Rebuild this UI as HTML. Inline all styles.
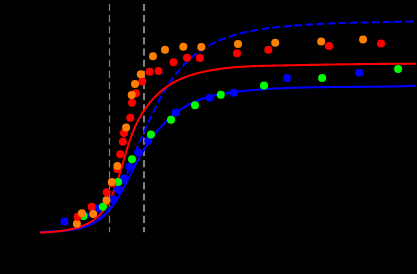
<!DOCTYPE html>
<html><head><meta charset="utf-8"><title>plot</title>
<style>
html,body{margin:0;padding:0;background:#000;width:417px;height:274px;overflow:hidden;font-family:"Liberation Sans",sans-serif;}
svg{display:block}
</style></head>
<body>
<svg width="417" height="274" viewBox="0 0 417 274">
<rect x="0" y="0" width="417" height="274" fill="#000"/>
<g fill="none" stroke="#808080" stroke-dasharray="7.15 4">
<path stroke-width="1.2" d="M109.5,3.9 V232.3"/>
<path stroke-width="2.08" d="M144,3.9 V232.3"/>
</g>
<g fill="none" stroke-width="2.08" stroke-linejoin="round">
<path stroke="#0000ff" d="M39.99,232.34 L40.59,232.28 L41.19,232.23 L41.80,232.17 L42.40,232.12 L43.01,232.07 L43.62,232.03 L44.23,231.98 L44.85,231.94 L45.46,231.89 L46.08,231.85 L46.70,231.81 L47.32,231.77 L47.94,231.73 L48.57,231.69 L49.19,231.66 L49.82,231.62 L50.45,231.58 L51.08,231.55 L51.71,231.51 L52.34,231.48 L52.97,231.44 L53.61,231.41 L54.24,231.37 L54.88,231.33 L55.51,231.30 L56.15,231.26 L56.79,231.22 L57.43,231.18 L58.07,231.14 L58.71,231.10 L59.35,231.06 L59.99,231.01 L60.63,230.97 L61.27,230.92 L61.91,230.87 L62.55,230.82 L63.19,230.76 L63.83,230.71 L64.47,230.65 L65.11,230.59 L65.75,230.53 L66.39,230.46 L67.02,230.40 L67.66,230.32 L68.30,230.25 L68.94,230.17 L69.57,230.09 L70.21,230.01 L70.84,229.92 L71.47,229.83 L72.11,229.74 L72.74,229.64 L73.37,229.54 L73.99,229.43 L74.62,229.32 L75.25,229.20 L75.87,229.08 L76.49,228.96 L77.11,228.83 L77.73,228.70 L78.35,228.56 L78.97,228.41 L79.58,228.26 L80.19,228.11 L80.80,227.95 L81.41,227.79 L82.01,227.62 L82.62,227.44 L83.22,227.26 L83.82,227.07 L84.41,226.88 L85.00,226.68 L85.60,226.48 L86.18,226.27 L86.77,226.06 L87.35,225.84 L87.93,225.61 L88.51,225.38 L89.08,225.14 L89.65,224.90 L90.22,224.65 L90.78,224.39 L91.34,224.13 L91.90,223.87 L92.45,223.59 L93.00,223.31 L93.55,223.03 L94.09,222.74 L94.63,222.44 L95.17,222.13 L95.70,221.82 L96.23,221.50 L96.75,221.18 L97.27,220.85 L97.79,220.51 L98.30,220.17 L98.80,219.82 L99.31,219.46 L99.80,219.10 L100.30,218.73 L100.79,218.35 L101.27,217.97 L101.75,217.58 L102.23,217.19 L102.70,216.78 L103.16,216.38 L103.63,215.96 L104.09,215.54 L104.54,215.12 L104.99,214.69 L105.44,214.25 L105.88,213.81 L106.32,213.37 L106.75,212.92 L107.18,212.47 L107.61,212.01 L108.03,211.54 L108.45,211.07 L108.86,210.60 L109.27,210.13 L109.68,209.65 L110.08,209.16 L110.48,208.68 L110.88,208.18 L111.27,207.69 L111.66,207.19 L112.04,206.69 L112.42,206.19 L112.80,205.68 L113.17,205.17 L113.54,204.66 L113.91,204.15 L114.28,203.63 L114.64,203.11 L114.99,202.59 L115.35,202.07 L115.70,201.54 L116.05,201.02 L116.39,200.49 L116.73,199.96 L117.07,199.43 L117.40,198.90 L117.73,198.37 L118.06,197.83 L118.39,197.30 L118.71,196.77 L119.03,196.23 L119.35,195.69 L119.67,195.15 L119.98,194.61 L120.29,194.07 L120.60,193.53 L120.90,192.99 L121.21,192.45 L121.51,191.91 L121.81,191.36 L122.11,190.82 L122.40,190.27 L122.70,189.73 L122.99,189.18 L123.28,188.63 L123.57,188.08 L123.86,187.53 L124.15,186.99 L124.43,186.44 L124.72,185.88 L125.00,185.33 L125.28,184.78 L125.56,184.23 L125.84,183.68 L126.12,183.12 L126.40,182.57 L126.68,182.02 L126.96,181.46 L127.24,180.91 L127.51,180.35 L127.79,179.80 L128.07,179.24 L128.35,178.69 L128.62,178.13 L128.90,177.58 L129.17,177.02 L129.45,176.46 L129.73,175.91 L130.01,175.35 L130.28,174.79 L130.56,174.24 L130.84,173.68 L131.12,173.12 L131.40,172.57 L131.68,172.01 L131.97,171.45 L132.25,170.90 L132.53,170.34 L132.82,169.78 L133.10,169.23 L133.39,168.67 L133.68,168.11 L133.97,167.56 L134.26,167.00 L134.55,166.45 L134.84,165.89 L135.14,165.34 L135.43,164.78 L135.73,164.23 L136.03,163.67 L136.32,163.12 L136.62,162.57 L136.93,162.01 L137.23,161.46 L137.53,160.91 L137.84,160.36 L138.14,159.81 L138.45,159.26 L138.76,158.71 L139.07,158.16 L139.38,157.61 L139.69,157.06 L140.00,156.51 L140.32,155.97 L140.64,155.42 L140.95,154.87 L141.27,154.33 L141.59,153.79 L141.92,153.24 L142.24,152.70 L142.56,152.16 L142.89,151.62 L143.22,151.08 L143.55,150.54 L143.88,150.00 L144.21,149.46 L144.55,148.93 L144.89,148.39 L145.22,147.86 L145.56,147.32 L145.90,146.79 L146.25,146.26 L146.59,145.73 L146.94,145.20 L147.29,144.68 L147.64,144.15 L147.99,143.62 L148.34,143.10 L148.70,142.58 L149.06,142.05 L149.42,141.53 L149.78,141.01 L150.14,140.50 L150.51,139.98 L150.88,139.47 L151.25,138.95 L151.62,138.44 L151.99,137.93 L152.37,137.42 L152.74,136.91 L153.12,136.40 L153.51,135.90 L153.89,135.40 L154.28,134.89 L154.66,134.39 L155.06,133.89 L155.45,133.40 L155.84,132.90 L156.24,132.41 L156.64,131.92 L157.04,131.43 L157.45,130.94 L157.85,130.45 L158.26,129.97 L158.67,129.48 L159.09,129.00 L159.50,128.52 L159.92,128.05 L160.34,127.57 L160.76,127.10 L161.19,126.63 L161.61,126.16 L162.04,125.69 L162.47,125.23 L162.91,124.77 L163.34,124.31 L163.78,123.85 L164.22,123.39 L164.66,122.94 L165.10,122.49 L165.55,122.04 L166.00,121.60 L166.45,121.16 L166.90,120.72 L167.36,120.28 L167.81,119.85 L168.27,119.41 L168.73,118.98 L169.20,118.56 L169.66,118.13 L170.13,117.71 L170.60,117.30 L171.07,116.88 L171.55,116.47 L172.02,116.06 L172.50,115.65 L172.98,115.25 L173.46,114.85 L173.95,114.46 L174.44,114.06 L174.92,113.67 L175.42,113.28 L175.91,112.90 L176.40,112.52 L176.90,112.14 L177.40,111.77 L177.90,111.40 L178.41,111.03 L178.91,110.67 L179.42,110.31 L179.93,109.95 L180.44,109.60 L180.96,109.25 L181.47,108.91 L181.99,108.57 L182.51,108.23 L183.03,107.89 L183.56,107.56 L184.08,107.24 L184.61,106.92 L185.14,106.60 L185.67,106.28 L186.21,105.97 L186.74,105.67 L187.28,105.36 L187.82,105.06 L188.36,104.77 L188.91,104.48 L189.46,104.20 L190.00,103.91 L190.55,103.64 L191.11,103.36 L191.66,103.09 L192.22,102.83 L192.78,102.57 L193.34,102.31 L193.90,102.06 L194.46,101.81 L195.03,101.57 L195.59,101.32 L196.16,101.09 L196.73,100.85 L197.30,100.62 L197.88,100.40 L198.45,100.18 L199.03,99.96 L199.61,99.74 L200.19,99.53 L200.77,99.32 L201.36,99.12 L201.94,98.91 L202.53,98.72 L203.11,98.52 L203.70,98.33 L204.29,98.14 L204.89,97.96 L205.48,97.77 L206.07,97.60 L206.67,97.42 L207.27,97.25 L207.87,97.08 L208.47,96.91 L209.07,96.75 L209.67,96.59 L210.27,96.43 L210.88,96.27 L211.48,96.12 L212.09,95.97 L212.70,95.82 L213.31,95.68 L213.92,95.54 L214.53,95.40 L215.14,95.26 L215.75,95.13 L216.37,94.99 L216.98,94.86 L217.60,94.74 L218.21,94.61 L218.83,94.49 L219.45,94.37 L220.07,94.25 L220.68,94.13 L221.31,94.02 L221.93,93.91 L222.55,93.80 L223.17,93.69 L223.79,93.58 L224.42,93.48 L225.04,93.38 L225.67,93.28 L226.29,93.18 L226.92,93.08 L227.54,92.99 L228.17,92.89 L228.80,92.80 L229.42,92.71 L230.05,92.62 L230.68,92.54 L231.31,92.45 L231.94,92.37 L232.57,92.28 L233.20,92.20 L233.83,92.12 L234.46,92.04 L235.09,91.96 L235.72,91.89 L236.35,91.81 L236.98,91.74 L237.61,91.66 L238.24,91.59 L238.87,91.52 L239.51,91.45 L240.14,91.38 L240.77,91.31 L241.40,91.24 L242.03,91.18 L242.66,91.11 L243.29,91.04 L243.92,90.98 L244.55,90.91 L245.18,90.85 L245.82,90.79 L246.45,90.73 L247.08,90.66 L247.71,90.60 L248.34,90.54 L248.97,90.48 L249.60,90.43 L250.23,90.37 L250.86,90.31 L251.49,90.25 L252.12,90.20 L252.75,90.14 L253.38,90.09 L254.01,90.03 L254.64,89.98 L255.27,89.93 L255.90,89.88 L256.53,89.82 L257.16,89.77 L257.79,89.72 L258.42,89.67 L259.05,89.63 L259.68,89.58 L260.30,89.53 L260.93,89.48 L261.56,89.44 L262.19,89.39 L262.82,89.35 L263.45,89.30 L264.08,89.26 L264.71,89.21 L265.34,89.17 L265.97,89.13 L266.59,89.09 L267.22,89.05 L267.85,89.01 L268.48,88.97 L269.11,88.93 L269.74,88.89 L270.37,88.85 L270.99,88.81 L271.62,88.77 L272.25,88.74 L272.88,88.70 L273.51,88.67 L274.14,88.63 L274.76,88.60 L275.39,88.56 L276.02,88.53 L276.65,88.49 L277.28,88.46 L277.90,88.43 L278.53,88.40 L279.16,88.37 L279.79,88.34 L280.42,88.31 L281.04,88.28 L281.67,88.25 L282.30,88.22 L282.93,88.19 L283.55,88.16 L284.18,88.14 L284.81,88.11 L285.44,88.08 L286.06,88.06 L286.69,88.03 L287.32,88.00 L287.95,87.98 L288.57,87.96 L289.20,87.93 L289.83,87.91 L290.46,87.89 L291.08,87.86 L291.71,87.84 L292.34,87.82 L292.96,87.80 L293.59,87.78 L294.22,87.75 L294.85,87.73 L295.47,87.71 L296.10,87.69 L296.73,87.68 L297.35,87.66 L297.98,87.64 L298.61,87.62 L299.24,87.60 L299.86,87.58 L300.49,87.57 L301.12,87.55 L301.74,87.53 L302.37,87.52 L303.00,87.50 L303.62,87.49 L304.25,87.47 L304.88,87.46 L305.50,87.44 L306.13,87.43 L306.76,87.41 L307.38,87.40 L308.01,87.39 L308.64,87.37 L309.26,87.36 L309.89,87.35 L310.52,87.34 L311.14,87.32 L311.77,87.31 L312.40,87.30 L313.02,87.29 L313.65,87.28 L314.28,87.27 L314.90,87.26 L315.53,87.25 L316.16,87.24 L316.78,87.23 L317.41,87.22 L318.04,87.21 L318.66,87.20 L319.29,87.19 L319.92,87.18 L320.54,87.17 L321.17,87.17 L321.79,87.16 L322.42,87.15 L323.05,87.14 L323.67,87.13 L324.30,87.13 L324.93,87.12 L325.55,87.11 L326.18,87.11 L326.81,87.10 L327.43,87.09 L328.06,87.09 L328.69,87.08 L329.31,87.07 L329.94,87.07 L330.57,87.06 L331.19,87.06 L331.82,87.05 L332.45,87.05 L333.07,87.04 L333.70,87.04 L334.33,87.03 L334.95,87.03 L335.58,87.02 L336.21,87.02 L336.83,87.01 L337.46,87.01 L338.09,87.00 L338.71,87.00 L339.34,86.99 L339.97,86.99 L340.59,86.99 L341.22,86.98 L341.85,86.98 L342.47,86.97 L343.10,86.97 L343.73,86.97 L344.35,86.96 L344.98,86.96 L345.61,86.95 L346.23,86.95 L346.86,86.95 L347.49,86.94 L348.11,86.94 L348.74,86.94 L349.37,86.93 L350.00,86.93 L350.62,86.92 L351.25,86.92 L351.88,86.92 L352.50,86.91 L353.13,86.91 L353.76,86.91 L354.39,86.90 L355.01,86.90 L355.64,86.89 L356.27,86.89 L356.90,86.89 L357.52,86.88 L358.15,86.88 L358.78,86.87 L359.40,86.87 L360.03,86.87 L360.66,86.86 L361.29,86.86 L361.91,86.85 L362.54,86.85 L363.17,86.84 L363.80,86.84 L364.43,86.83 L365.05,86.83 L365.68,86.82 L366.31,86.82 L366.94,86.81 L367.57,86.81 L368.19,86.80 L368.82,86.80 L369.45,86.79 L370.08,86.79 L370.71,86.78 L371.33,86.77 L371.96,86.77 L372.59,86.76 L373.22,86.75 L373.85,86.75 L374.48,86.74 L375.10,86.73 L375.73,86.73 L376.36,86.72 L376.99,86.71 L377.62,86.70 L378.25,86.70 L378.88,86.69 L379.50,86.68 L380.13,86.67 L380.76,86.66 L381.39,86.65 L382.02,86.64 L382.65,86.63 L383.28,86.62 L383.91,86.61 L384.54,86.60 L385.17,86.59 L385.79,86.58 L386.42,86.57 L387.05,86.56 L387.68,86.55 L388.31,86.54 L388.94,86.53 L389.57,86.51 L390.20,86.50 L390.83,86.49 L391.46,86.48 L392.09,86.46 L392.72,86.45 L393.35,86.44 L393.98,86.42 L394.61,86.41 L395.24,86.39 L395.87,86.38 L396.50,86.36 L397.13,86.35 L397.76,86.33 L398.39,86.31 L399.02,86.30 L399.65,86.28 L400.29,86.26 L400.92,86.25 L401.55,86.23 L402.18,86.21 L402.81,86.19 L403.44,86.17 L404.07,86.15 L404.70,86.13 L405.33,86.11 L405.97,86.09 L406.60,86.07 L407.23,86.05 L407.86,86.03 L408.49,86.00 L409.12,85.98 L409.76,85.96 L410.39,85.94 L411.02,85.91 L411.65,85.89 L412.28,85.86 L412.92,85.84 L413.55,85.81 L414.18,85.79 L414.81,85.76 L415.45,85.73 L416.08,85.71"/>
<path stroke="#0000ff" stroke-dasharray="7.76 3.33" stroke-dashoffset="6.96" d="M39.95,232.49 L40.63,232.42 L41.31,232.35 L41.99,232.28 L42.67,232.21 L43.36,232.15 L44.04,232.09 L44.73,232.03 L45.42,231.97 L46.11,231.91 L46.81,231.86 L47.50,231.80 L48.20,231.75 L48.90,231.70 L49.59,231.65 L50.29,231.60 L50.99,231.55 L51.70,231.50 L52.40,231.45 L53.10,231.40 L53.81,231.35 L54.51,231.30 L55.21,231.25 L55.92,231.19 L56.63,231.14 L57.33,231.09 L58.04,231.03 L58.74,230.98 L59.45,230.92 L60.16,230.86 L60.86,230.80 L61.57,230.73 L62.28,230.67 L62.98,230.60 L63.69,230.53 L64.39,230.46 L65.09,230.38 L65.80,230.30 L66.50,230.22 L67.20,230.13 L67.90,230.04 L68.60,229.94 L69.30,229.85 L69.99,229.74 L70.69,229.64 L71.38,229.53 L72.08,229.41 L72.77,229.29 L73.46,229.17 L74.15,229.04 L74.83,228.90 L75.52,228.76 L76.20,228.61 L76.88,228.46 L77.56,228.30 L78.23,228.14 L78.91,227.96 L79.58,227.79 L80.25,227.60 L80.91,227.41 L81.58,227.21 L82.24,227.01 L82.90,226.79 L83.55,226.57 L84.20,226.35 L84.85,226.11 L85.50,225.87 L86.14,225.61 L86.78,225.35 L87.42,225.09 L88.05,224.81 L88.68,224.52 L89.31,224.23 L89.93,223.93 L90.55,223.62 L91.16,223.31 L91.77,222.98 L92.38,222.65 L92.98,222.31 L93.58,221.97 L94.18,221.61 L94.77,221.25 L95.35,220.88 L95.93,220.51 L96.51,220.13 L97.08,219.74 L97.65,219.34 L98.21,218.94 L98.77,218.53 L99.32,218.12 L99.87,217.70 L100.41,217.27 L100.94,216.83 L101.48,216.39 L102.00,215.95 L102.52,215.49 L103.04,215.04 L103.55,214.57 L104.05,214.10 L104.55,213.63 L105.04,213.15 L105.52,212.66 L106.00,212.17 L106.48,211.67 L106.94,211.17 L107.41,210.66 L107.86,210.15 L108.31,209.63 L108.75,209.11 L109.19,208.58 L109.62,208.05 L110.05,207.52 L110.47,206.98 L110.89,206.43 L111.30,205.88 L111.71,205.33 L112.11,204.77 L112.50,204.21 L112.89,203.64 L113.28,203.07 L113.66,202.50 L114.04,201.92 L114.41,201.34 L114.78,200.75 L115.14,200.16 L115.50,199.57 L115.85,198.98 L116.20,198.38 L116.54,197.78 L116.88,197.17 L117.22,196.56 L117.55,195.95 L117.88,195.34 L118.21,194.72 L118.53,194.10 L118.85,193.48 L119.16,192.86 L119.47,192.23 L119.78,191.60 L120.08,190.97 L120.39,190.34 L120.68,189.70 L120.98,189.06 L121.27,188.42 L121.56,187.78 L121.84,187.14 L122.12,186.49 L122.40,185.85 L122.68,185.20 L122.96,184.55 L123.23,183.90 L123.50,183.24 L123.77,182.59 L124.03,181.94 L124.29,181.28 L124.55,180.62 L124.81,179.96 L125.07,179.31 L125.32,178.65 L125.58,177.99 L125.83,177.33 L126.08,176.67 L126.33,176.00 L126.57,175.34 L126.82,174.68 L127.06,174.02 L127.30,173.36 L127.54,172.70 L127.78,172.03 L128.02,171.37 L128.26,170.71 L128.50,170.05 L128.74,169.39 L128.97,168.73 L129.21,168.07 L129.44,167.41 L129.67,166.75 L129.91,166.10 L130.14,165.44 L130.37,164.78 L130.61,164.13 L130.84,163.48 L131.07,162.83 L131.30,162.18 L131.54,161.53 L131.77,160.88 L132.00,160.23 L132.23,159.59 L132.47,158.95 L132.70,158.31 L132.94,157.67 L133.17,157.03 L133.41,156.40 L133.65,155.77 L133.88,155.14 L134.12,154.51 L134.36,153.88 L134.60,153.26 L134.85,152.64 L135.09,152.02 L135.33,151.41 L135.58,150.80 L135.83,150.19 L136.08,149.58 L136.33,148.98 L136.58,148.38 L136.83,147.79 L137.09,147.19 L137.35,146.60 L137.61,146.02 L137.87,145.43 L138.13,144.85 L138.40,144.27 L138.67,143.70 L138.93,143.12 L139.20,142.55 L139.47,141.98 L139.75,141.40 L140.02,140.83 L140.29,140.26 L140.57,139.68 L140.84,139.11 L141.11,138.53 L141.39,137.96 L141.66,137.38 L141.94,136.79 L142.22,136.21 L142.49,135.62 L142.77,135.03 L143.04,134.43 L143.32,133.84 L143.59,133.23 L143.86,132.62 L144.13,132.01 L144.41,131.39 L144.68,130.76 L144.94,130.13 L145.21,129.50 L145.48,128.85 L145.74,128.20 L146.01,127.54 L146.27,126.87 L146.53,126.20 L146.79,125.52 L147.04,124.86 L147.30,124.20 L147.55,123.56 L147.81,122.94 L148.06,122.34 L148.31,121.77 L148.56,121.24 L148.81,120.74 L149.07,120.26 L149.32,119.80 L149.57,119.36 L149.82,118.94 L150.07,118.53 L150.32,118.12 L150.57,117.72 L150.82,117.31 L151.07,116.89 L151.32,116.45 L151.58,115.99 L151.83,115.51 L152.09,115.00 L152.34,114.49 L152.60,113.95 L152.86,113.40 L153.13,112.84 L153.39,112.27 L153.65,111.69 L153.92,111.10 L154.19,110.50 L154.46,109.90 L154.74,109.30 L155.02,108.69 L155.30,108.09 L155.58,107.48 L155.86,106.87 L156.15,106.26 L156.44,105.66 L156.73,105.05 L157.03,104.44 L157.33,103.83 L157.63,103.23 L157.93,102.62 L158.24,102.01 L158.55,101.40 L158.86,100.80 L159.18,100.19 L159.49,99.58 L159.81,98.98 L160.14,98.37 L160.46,97.77 L160.79,97.16 L161.12,96.56 L161.46,95.95 L161.79,95.35 L162.13,94.75 L162.47,94.15 L162.82,93.54 L163.16,92.94 L163.51,92.34 L163.86,91.75 L164.22,91.15 L164.58,90.55 L164.94,89.96 L165.30,89.36 L165.66,88.77 L166.03,88.18 L166.40,87.59 L166.78,87.00 L167.15,86.41 L167.53,85.82 L167.91,85.23 L168.30,84.65 L168.68,84.07 L169.07,83.48 L169.46,82.90 L169.86,82.33 L170.26,81.75 L170.66,81.17 L171.06,80.60 L171.46,80.03 L171.87,79.46 L172.28,78.89 L172.70,78.32 L173.11,77.76 L173.53,77.20 L173.95,76.64 L174.37,76.08 L174.80,75.52 L175.23,74.97 L175.66,74.42 L176.09,73.87 L176.53,73.32 L176.97,72.77 L177.41,72.23 L177.86,71.69 L178.30,71.15 L178.75,70.62 L179.21,70.09 L179.66,69.56 L180.12,69.03 L180.58,68.50 L181.04,67.98 L181.51,67.46 L181.98,66.94 L182.45,66.43 L182.92,65.92 L183.40,65.41 L183.88,64.91 L184.36,64.40 L184.84,63.91 L185.33,63.41 L185.82,62.92 L186.31,62.43 L186.80,61.94 L187.30,61.46 L187.80,60.98 L188.30,60.50 L188.80,60.03 L189.31,59.56 L189.82,59.09 L190.33,58.63 L190.85,58.17 L191.37,57.72 L191.89,57.27 L192.41,56.82 L192.93,56.38 L193.46,55.94 L193.99,55.50 L194.53,55.07 L195.06,54.64 L195.60,54.21 L196.14,53.79 L196.68,53.38 L197.23,52.96 L197.78,52.56 L198.33,52.15 L198.88,51.75 L199.44,51.36 L200.00,50.97 L200.56,50.58 L201.12,50.20 L201.69,49.82 L202.26,49.44 L202.83,49.07 L203.40,48.71 L203.98,48.34 L204.56,47.98 L205.14,47.63 L205.72,47.28 L206.31,46.93 L206.89,46.59 L207.48,46.25 L208.08,45.92 L208.67,45.59 L209.27,45.26 L209.86,44.94 L210.47,44.62 L211.07,44.30 L211.67,43.99 L212.28,43.68 L212.89,43.38 L213.50,43.07 L214.11,42.78 L214.73,42.48 L215.35,42.19 L215.97,41.91 L216.59,41.62 L217.21,41.34 L217.83,41.07 L218.46,40.79 L219.09,40.52 L219.72,40.26 L220.35,39.99 L220.99,39.73 L221.62,39.48 L222.26,39.22 L222.90,38.97 L223.54,38.73 L224.18,38.48 L224.83,38.24 L225.47,38.01 L226.12,37.77 L226.77,37.54 L227.42,37.31 L228.07,37.09 L228.72,36.87 L229.38,36.65 L230.04,36.43 L230.69,36.22 L231.35,36.01 L232.01,35.80 L232.68,35.60 L233.34,35.39 L234.00,35.19 L234.67,35.00 L235.34,34.81 L236.01,34.61 L236.68,34.43 L237.35,34.24 L238.02,34.06 L238.69,33.88 L239.37,33.70 L240.04,33.53 L240.72,33.35 L241.40,33.18 L242.08,33.01 L242.76,32.85 L243.44,32.69 L244.12,32.53 L244.81,32.37 L245.49,32.21 L246.18,32.06 L246.86,31.91 L247.55,31.76 L248.24,31.61 L248.93,31.47 L249.62,31.33 L250.31,31.19 L251.00,31.05 L251.69,30.91 L252.38,30.78 L253.07,30.65 L253.77,30.52 L254.46,30.39 L255.16,30.26 L255.86,30.14 L256.55,30.02 L257.25,29.90 L257.95,29.78 L258.65,29.67 L259.34,29.55 L260.04,29.44 L260.74,29.33 L261.44,29.22 L262.15,29.11 L262.85,29.01 L263.55,28.90 L264.25,28.80 L264.95,28.70 L265.66,28.60 L266.36,28.50 L267.06,28.40 L267.77,28.31 L268.47,28.22 L269.17,28.13 L269.88,28.03 L270.58,27.95 L271.29,27.86 L271.99,27.77 L272.70,27.69 L273.40,27.60 L274.11,27.52 L274.81,27.44 L275.52,27.36 L276.22,27.28 L276.93,27.20 L277.63,27.13 L278.34,27.05 L279.04,26.98 L279.75,26.90 L280.45,26.83 L281.16,26.76 L281.86,26.69 L282.56,26.62 L283.27,26.55 L283.97,26.49 L284.67,26.42 L285.38,26.35 L286.08,26.29 L286.78,26.22 L287.49,26.16 L288.19,26.10 L288.89,26.04 L289.59,25.97 L290.29,25.91 L290.99,25.85 L291.69,25.79 L292.39,25.74 L293.09,25.68 L293.79,25.62 L294.49,25.57 L295.19,25.51 L295.88,25.46 L296.58,25.40 L297.28,25.35 L297.98,25.29 L298.67,25.24 L299.37,25.19 L300.07,25.14 L300.76,25.09 L301.46,25.04 L302.15,24.99 L302.85,24.94 L303.54,24.89 L304.24,24.85 L304.93,24.80 L305.63,24.76 L306.32,24.71 L307.02,24.67 L307.71,24.62 L308.40,24.58 L309.10,24.53 L309.79,24.49 L310.48,24.45 L311.17,24.41 L311.87,24.37 L312.56,24.33 L313.25,24.29 L313.94,24.25 L314.63,24.21 L315.33,24.17 L316.02,24.13 L316.71,24.10 L317.40,24.06 L318.09,24.03 L318.78,23.99 L319.47,23.95 L320.16,23.92 L320.85,23.89 L321.54,23.85 L322.23,23.82 L322.92,23.79 L323.61,23.75 L324.30,23.72 L324.99,23.69 L325.68,23.66 L326.37,23.63 L327.06,23.60 L327.75,23.57 L328.44,23.54 L329.13,23.51 L329.81,23.48 L330.50,23.46 L331.19,23.43 L331.88,23.40 L332.57,23.37 L333.26,23.35 L333.95,23.32 L334.63,23.30 L335.32,23.27 L336.01,23.25 L336.70,23.22 L337.39,23.20 L338.08,23.17 L338.76,23.15 L339.45,23.13 L340.14,23.10 L340.83,23.08 L341.52,23.06 L342.21,23.04 L342.90,23.02 L343.58,22.99 L344.27,22.97 L344.96,22.95 L345.65,22.93 L346.34,22.91 L347.03,22.89 L347.71,22.87 L348.40,22.85 L349.09,22.83 L349.78,22.82 L350.47,22.80 L351.16,22.78 L351.85,22.76 L352.54,22.74 L353.23,22.72 L353.92,22.71 L354.60,22.69 L355.29,22.67 L355.98,22.66 L356.67,22.64 L357.36,22.62 L358.05,22.61 L358.74,22.59 L359.43,22.57 L360.12,22.56 L360.81,22.54 L361.50,22.53 L362.20,22.51 L362.89,22.50 L363.58,22.48 L364.27,22.47 L364.96,22.45 L365.65,22.44 L366.34,22.42 L367.04,22.41 L367.73,22.39 L368.42,22.38 L369.11,22.36 L369.81,22.35 L370.50,22.34 L371.19,22.32 L371.88,22.31 L372.58,22.29 L373.27,22.28 L373.97,22.27 L374.66,22.25 L375.36,22.24 L376.05,22.22 L376.75,22.21 L377.44,22.20 L378.14,22.18 L378.83,22.17 L379.53,22.16 L380.22,22.14 L380.92,22.13 L381.62,22.12 L382.31,22.10 L383.01,22.09 L383.71,22.08 L384.41,22.06 L385.11,22.05 L385.81,22.03 L386.50,22.02 L387.20,22.01 L387.90,21.99 L388.60,21.98 L389.30,21.97 L390.00,21.95 L390.71,21.94 L391.41,21.92 L392.11,21.91 L392.81,21.89 L393.51,21.88 L394.22,21.86 L394.92,21.85 L395.62,21.83 L396.33,21.82 L397.03,21.80 L397.74,21.79 L398.44,21.77 L399.15,21.76 L399.85,21.74 L400.56,21.73 L401.27,21.71 L401.97,21.69 L402.68,21.68 L403.39,21.66 L404.10,21.64 L404.81,21.63 L405.52,21.61 L406.23,21.59 L406.94,21.58 L407.65,21.56 L408.36,21.54 L409.07,21.52 L409.78,21.50 L410.49,21.48 L411.21,21.47 L411.92,21.45 L412.63,21.43 L413.35,21.41 L414.06,21.39 L414.78,21.37 L415.50,21.35 L416.21,21.33"/>
<path stroke="#ff0000" d="M40.15,232.53 L40.77,232.50 L41.38,232.47 L42.00,232.44 L42.63,232.41 L43.26,232.38 L43.89,232.34 L44.52,232.31 L45.16,232.28 L45.80,232.24 L46.44,232.20 L47.08,232.17 L47.73,232.13 L48.38,232.09 L49.03,232.05 L49.68,232.00 L50.34,231.96 L50.99,231.91 L51.65,231.86 L52.31,231.81 L52.97,231.76 L53.64,231.70 L54.30,231.64 L54.97,231.58 L55.63,231.52 L56.30,231.46 L56.97,231.39 L57.64,231.32 L58.31,231.25 L58.98,231.17 L59.65,231.10 L60.32,231.01 L60.99,230.93 L61.66,230.84 L62.33,230.75 L63.01,230.66 L63.68,230.56 L64.35,230.46 L65.02,230.36 L65.69,230.25 L66.36,230.14 L67.03,230.02 L67.70,229.90 L68.36,229.78 L69.03,229.65 L69.70,229.52 L70.36,229.38 L71.02,229.24 L71.68,229.10 L72.34,228.95 L73.00,228.79 L73.66,228.63 L74.31,228.47 L74.96,228.30 L75.61,228.13 L76.26,227.95 L76.91,227.76 L77.55,227.57 L78.19,227.38 L78.83,227.18 L79.47,226.97 L80.10,226.76 L80.73,226.54 L81.36,226.32 L81.98,226.09 L82.60,225.85 L83.22,225.60 L83.83,225.35 L84.44,225.10 L85.05,224.83 L85.65,224.56 L86.25,224.28 L86.85,223.99 L87.44,223.70 L88.02,223.40 L88.61,223.09 L89.18,222.77 L89.76,222.45 L90.33,222.11 L90.89,221.77 L91.45,221.42 L92.00,221.07 L92.55,220.70 L93.10,220.33 L93.64,219.94 L94.17,219.56 L94.70,219.16 L95.22,218.76 L95.74,218.34 L96.25,217.93 L96.76,217.50 L97.26,217.07 L97.75,216.63 L98.24,216.19 L98.72,215.74 L99.19,215.28 L99.66,214.81 L100.12,214.34 L100.58,213.87 L101.03,213.38 L101.47,212.90 L101.91,212.40 L102.33,211.90 L102.75,211.40 L103.17,210.89 L103.57,210.38 L103.97,209.86 L104.36,209.33 L104.75,208.80 L105.13,208.27 L105.50,207.73 L105.86,207.19 L106.22,206.64 L106.58,206.09 L106.92,205.53 L107.26,204.98 L107.60,204.41 L107.93,203.85 L108.25,203.28 L108.57,202.70 L108.88,202.13 L109.19,201.55 L109.49,200.96 L109.79,200.38 L110.08,199.79 L110.37,199.20 L110.66,198.60 L110.94,198.01 L111.21,197.41 L111.49,196.81 L111.76,196.20 L112.02,195.60 L112.28,194.99 L112.54,194.38 L112.80,193.77 L113.05,193.16 L113.30,192.55 L113.54,191.93 L113.79,191.32 L114.03,190.70 L114.27,190.08 L114.50,189.47 L114.74,188.85 L114.97,188.23 L115.20,187.60 L115.43,186.98 L115.65,186.36 L115.87,185.74 L116.09,185.11 L116.31,184.49 L116.53,183.86 L116.75,183.23 L116.96,182.60 L117.17,181.98 L117.38,181.35 L117.59,180.72 L117.79,180.09 L118.00,179.45 L118.20,178.82 L118.41,178.19 L118.61,177.56 L118.81,176.92 L119.00,176.29 L119.20,175.65 L119.40,175.02 L119.59,174.38 L119.78,173.75 L119.98,173.11 L120.17,172.47 L120.36,171.84 L120.55,171.20 L120.74,170.56 L120.92,169.92 L121.11,169.28 L121.30,168.65 L121.48,168.01 L121.67,167.37 L121.86,166.73 L122.04,166.09 L122.23,165.45 L122.41,164.81 L122.59,164.17 L122.78,163.53 L122.96,162.89 L123.14,162.25 L123.33,161.61 L123.51,160.97 L123.70,160.33 L123.88,159.69 L124.06,159.05 L124.25,158.41 L124.43,157.77 L124.62,157.13 L124.80,156.49 L124.99,155.86 L125.18,155.22 L125.36,154.58 L125.55,153.94 L125.74,153.30 L125.93,152.67 L126.12,152.03 L126.31,151.39 L126.50,150.76 L126.69,150.12 L126.89,149.48 L127.08,148.85 L127.28,148.21 L127.47,147.58 L127.67,146.95 L127.87,146.31 L128.07,145.68 L128.27,145.05 L128.48,144.42 L128.68,143.79 L128.89,143.16 L129.10,142.53 L129.31,141.90 L129.52,141.27 L129.73,140.65 L129.95,140.02 L130.17,139.39 L130.38,138.77 L130.61,138.15 L130.83,137.52 L131.05,136.90 L131.28,136.28 L131.51,135.66 L131.74,135.04 L131.98,134.42 L132.21,133.80 L132.45,133.19 L132.70,132.57 L132.94,131.96 L133.19,131.35 L133.44,130.73 L133.69,130.12 L133.94,129.51 L134.20,128.91 L134.46,128.30 L134.73,127.69 L134.99,127.09 L135.26,126.49 L135.53,125.88 L135.81,125.28 L136.09,124.68 L136.37,124.09 L136.66,123.49 L136.95,122.89 L137.24,122.30 L137.53,121.71 L137.83,121.12 L138.14,120.53 L138.44,119.94 L138.75,119.35 L139.07,118.77 L139.39,118.19 L139.71,117.60 L140.03,117.02 L140.36,116.45 L140.70,115.87 L141.03,115.30 L141.37,114.72 L141.72,114.15 L142.07,113.58 L142.42,113.02 L142.78,112.45 L143.14,111.89 L143.50,111.33 L143.87,110.77 L144.24,110.22 L144.61,109.66 L144.99,109.11 L145.37,108.56 L145.76,108.02 L146.15,107.47 L146.54,106.93 L146.94,106.39 L147.34,105.86 L147.74,105.32 L148.15,104.79 L148.56,104.27 L148.98,103.74 L149.40,103.22 L149.82,102.70 L150.24,102.19 L150.67,101.67 L151.10,101.16 L151.54,100.66 L151.98,100.15 L152.42,99.65 L152.87,99.16 L153.32,98.66 L153.77,98.17 L154.23,97.69 L154.69,97.21 L155.15,96.73 L155.62,96.25 L156.09,95.78 L156.56,95.31 L157.04,94.85 L157.52,94.39 L158.00,93.93 L158.49,93.48 L158.98,93.03 L159.47,92.58 L159.97,92.14 L160.47,91.70 L160.97,91.27 L161.48,90.84 L161.99,90.42 L162.50,90.00 L163.02,89.59 L163.54,89.17 L164.06,88.77 L164.59,88.37 L165.11,87.97 L165.65,87.58 L166.18,87.19 L166.72,86.81 L167.26,86.43 L167.80,86.05 L168.35,85.69 L168.90,85.32 L169.46,84.96 L170.01,84.61 L170.57,84.26 L171.13,83.92 L171.70,83.58 L172.27,83.25 L172.84,82.92 L173.41,82.59 L173.99,82.27 L174.57,81.96 L175.15,81.65 L175.73,81.35 L176.32,81.05 L176.91,80.75 L177.50,80.46 L178.10,80.18 L178.69,79.89 L179.29,79.62 L179.90,79.34 L180.50,79.07 L181.10,78.81 L181.71,78.55 L182.32,78.29 L182.93,78.04 L183.55,77.79 L184.16,77.55 L184.78,77.31 L185.40,77.08 L186.02,76.84 L186.64,76.61 L187.27,76.39 L187.89,76.17 L188.52,75.95 L189.15,75.74 L189.78,75.53 L190.41,75.32 L191.04,75.12 L191.67,74.92 L192.31,74.72 L192.95,74.53 L193.58,74.34 L194.22,74.15 L194.86,73.97 L195.50,73.79 L196.14,73.61 L196.78,73.44 L197.43,73.27 L198.07,73.10 L198.72,72.94 L199.36,72.77 L200.01,72.61 L200.65,72.46 L201.30,72.30 L201.94,72.15 L202.59,72.00 L203.24,71.85 L203.89,71.71 L204.54,71.57 L205.18,71.43 L205.83,71.29 L206.48,71.16 L207.13,71.02 L207.78,70.89 L208.43,70.77 L209.08,70.64 L209.73,70.52 L210.38,70.40 L211.03,70.28 L211.68,70.16 L212.33,70.05 L212.98,69.93 L213.63,69.82 L214.28,69.72 L214.94,69.61 L215.59,69.51 L216.24,69.40 L216.89,69.30 L217.55,69.21 L218.20,69.11 L218.85,69.02 L219.50,68.92 L220.16,68.83 L220.81,68.74 L221.46,68.66 L222.12,68.57 L222.77,68.49 L223.43,68.41 L224.08,68.33 L224.74,68.25 L225.39,68.17 L226.05,68.10 L226.70,68.02 L227.36,67.95 L228.01,67.88 L228.67,67.81 L229.32,67.75 L229.98,67.68 L230.64,67.62 L231.29,67.56 L231.95,67.50 L232.61,67.44 L233.26,67.38 L233.92,67.32 L234.58,67.27 L235.23,67.21 L235.89,67.16 L236.55,67.11 L237.21,67.06 L237.87,67.01 L238.52,66.96 L239.18,66.92 L239.84,66.87 L240.50,66.83 L241.16,66.79 L241.82,66.74 L242.48,66.70 L243.14,66.66 L243.80,66.63 L244.46,66.59 L245.12,66.55 L245.78,66.52 L246.44,66.48 L247.10,66.45 L247.76,66.42 L248.42,66.39 L249.08,66.35 L249.74,66.32 L250.40,66.30 L251.06,66.27 L251.72,66.24 L252.38,66.21 L253.05,66.19 L253.71,66.16 L254.37,66.14 L255.03,66.11 L255.69,66.09 L256.36,66.07 L257.02,66.05 L257.68,66.02 L258.34,66.00 L259.01,65.98 L259.67,65.96 L260.33,65.94 L260.99,65.92 L261.66,65.91 L262.32,65.89 L262.98,65.87 L263.65,65.85 L264.31,65.84 L264.97,65.82 L265.64,65.80 L266.30,65.79 L266.97,65.77 L267.63,65.75 L268.29,65.74 L268.96,65.72 L269.62,65.71 L270.29,65.69 L270.95,65.68 L271.62,65.66 L272.28,65.65 L272.95,65.63 L273.61,65.62 L274.28,65.61 L274.94,65.59 L275.61,65.58 L276.27,65.56 L276.94,65.55 L277.60,65.53 L278.27,65.52 L278.94,65.51 L279.60,65.49 L280.27,65.48 L280.93,65.46 L281.60,65.45 L282.26,65.43 L282.93,65.42 L283.60,65.41 L284.26,65.39 L284.93,65.38 L285.60,65.36 L286.26,65.35 L286.93,65.34 L287.60,65.32 L288.26,65.31 L288.93,65.29 L289.60,65.28 L290.26,65.27 L290.93,65.25 L291.60,65.24 L292.26,65.23 L292.93,65.21 L293.60,65.20 L294.27,65.19 L294.93,65.17 L295.60,65.16 L296.27,65.15 L296.93,65.13 L297.60,65.12 L298.27,65.11 L298.94,65.09 L299.60,65.08 L300.27,65.07 L300.94,65.05 L301.61,65.04 L302.27,65.03 L302.94,65.02 L303.61,65.00 L304.28,64.99 L304.95,64.98 L305.61,64.96 L306.28,64.95 L306.95,64.94 L307.62,64.93 L308.29,64.91 L308.95,64.90 L309.62,64.89 L310.29,64.88 L310.96,64.86 L311.63,64.85 L312.29,64.84 L312.96,64.83 L313.63,64.82 L314.30,64.80 L314.97,64.79 L315.63,64.78 L316.30,64.77 L316.97,64.76 L317.64,64.74 L318.31,64.73 L318.97,64.72 L319.64,64.71 L320.31,64.70 L320.98,64.69 L321.65,64.67 L322.32,64.66 L322.98,64.65 L323.65,64.64 L324.32,64.63 L324.99,64.62 L325.66,64.61 L326.32,64.59 L326.99,64.58 L327.66,64.57 L328.33,64.56 L329.00,64.55 L329.66,64.54 L330.33,64.53 L331.00,64.52 L331.67,64.51 L332.34,64.50 L333.00,64.49 L333.67,64.48 L334.34,64.47 L335.01,64.45 L335.67,64.44 L336.34,64.43 L337.01,64.42 L337.68,64.41 L338.35,64.40 L339.01,64.39 L339.68,64.38 L340.35,64.37 L341.02,64.36 L341.68,64.35 L342.35,64.34 L343.02,64.33 L343.69,64.32 L344.35,64.32 L345.02,64.31 L345.69,64.30 L346.35,64.29 L347.02,64.28 L347.69,64.27 L348.35,64.26 L349.02,64.25 L349.69,64.24 L350.35,64.23 L351.02,64.22 L351.69,64.21 L352.35,64.21 L353.02,64.20 L353.69,64.19 L354.35,64.18 L355.02,64.17 L355.69,64.16 L356.35,64.15 L357.02,64.15 L357.68,64.14 L358.35,64.13 L359.02,64.12 L359.68,64.11 L360.35,64.10 L361.01,64.10 L361.68,64.09 L362.34,64.08 L363.01,64.07 L363.68,64.07 L364.34,64.06 L365.01,64.05 L365.67,64.04 L366.34,64.04 L367.00,64.03 L367.66,64.02 L368.33,64.01 L368.99,64.01 L369.66,64.00 L370.32,63.99 L370.99,63.99 L371.65,63.98 L372.32,63.97 L372.98,63.97 L373.64,63.96 L374.31,63.95 L374.97,63.95 L375.63,63.94 L376.30,63.93 L376.96,63.93 L377.62,63.92 L378.29,63.92 L378.95,63.91 L379.61,63.90 L380.27,63.90 L380.94,63.89 L381.60,63.89 L382.26,63.88 L382.92,63.88 L383.59,63.87 L384.25,63.86 L384.91,63.86 L385.57,63.85 L386.23,63.85 L386.89,63.84 L387.56,63.84 L388.22,63.83 L388.88,63.83 L389.54,63.82 L390.20,63.82 L390.86,63.82 L391.52,63.81 L392.18,63.81 L392.84,63.80 L393.50,63.80 L394.16,63.79 L394.82,63.79 L395.48,63.79 L396.14,63.78 L396.80,63.78 L397.46,63.77 L398.12,63.77 L398.78,63.77 L399.43,63.76 L400.09,63.76 L400.75,63.76 L401.41,63.75 L402.07,63.75 L402.73,63.75 L403.38,63.74 L404.04,63.74 L404.70,63.74 L405.35,63.74 L406.01,63.73 L406.67,63.73 L407.33,63.73 L407.98,63.73 L408.64,63.72 L409.29,63.72 L409.95,63.72 L410.61,63.72 L411.26,63.72 L411.92,63.71 L412.57,63.71 L413.23,63.71 L413.88,63.71 L414.54,63.71 L415.19,63.71 L415.84,63.71"/>
</g>
<g>
<circle cx="64.5" cy="221.4" r="4.0" fill="#0000ff"/>
<circle cx="85.0" cy="215.8" r="4.0" fill="#0000ff"/>
<circle cx="98" cy="208.8" r="4.0" fill="#0000ff"/>
<circle cx="113.3" cy="199.5" r="4.0" fill="#0000ff"/>
<circle cx="118.1" cy="189.4" r="4.0" fill="#0000ff"/>
<circle cx="124.1" cy="178.5" r="4.0" fill="#0000ff"/>
<circle cx="129.4" cy="166.7" r="4.0" fill="#0000ff"/>
<circle cx="138.3" cy="152.2" r="4.0" fill="#0000ff"/>
<circle cx="148.3" cy="140.8" r="4.0" fill="#0000ff"/>
<circle cx="175.8" cy="112.5" r="4.0" fill="#0000ff"/>
<circle cx="209.7" cy="97.8" r="4.0" fill="#0000ff"/>
<circle cx="233.7" cy="92.7" r="4.0" fill="#0000ff"/>
<circle cx="287" cy="77.9" r="4.0" fill="#0000ff"/>
<circle cx="359.1" cy="72.7" r="4.0" fill="#0000ff"/>
<circle cx="83.5" cy="215.9" r="4.0" fill="#00ff00"/>
<circle cx="102.9" cy="206.7" r="4.0" fill="#00ff00"/>
<circle cx="118.1" cy="181.9" r="4.0" fill="#00ff00"/>
<circle cx="132" cy="159.2" r="4.0" fill="#00ff00"/>
<circle cx="150.9" cy="134.4" r="4.0" fill="#00ff00"/>
<circle cx="171" cy="119.7" r="4.0" fill="#00ff00"/>
<circle cx="195" cy="105.3" r="4.0" fill="#00ff00"/>
<circle cx="220.8" cy="94.8" r="4.0" fill="#00ff00"/>
<circle cx="264" cy="85.4" r="4.0" fill="#00ff00"/>
<circle cx="322.1" cy="78" r="4.0" fill="#00ff00"/>
<circle cx="398.1" cy="69.1" r="4.0" fill="#00ff00"/>
<circle cx="76.9" cy="223.8" r="4.0" fill="#ff8000"/>
<circle cx="106.5" cy="200.3" r="4.0" fill="#ff8000"/>
<circle cx="77.5" cy="216.8" r="4.0" fill="#ff0000"/>
<circle cx="91.7" cy="206.7" r="4.0" fill="#ff0000"/>
<circle cx="106.7" cy="192.3" r="4.0" fill="#ff0000"/>
<circle cx="117.3" cy="168.9" r="4.0" fill="#ff0000"/>
<circle cx="112.2" cy="183.2" r="4.0" fill="#ff0000"/>
<circle cx="120.3" cy="154.3" r="4.0" fill="#ff0000"/>
<circle cx="122.9" cy="141.7" r="4.0" fill="#ff0000"/>
<circle cx="124" cy="133.1" r="4.0" fill="#ff0000"/>
<circle cx="130.3" cy="117.8" r="4.0" fill="#ff0000"/>
<circle cx="132" cy="102.7" r="4.0" fill="#ff0000"/>
<circle cx="136.0" cy="93.2" r="4.0" fill="#ff0000"/>
<circle cx="142.2" cy="81.5" r="4.0" fill="#ff0000"/>
<circle cx="149.6" cy="71.7" r="4.0" fill="#ff0000"/>
<circle cx="158.5" cy="70.9" r="4.0" fill="#ff0000"/>
<circle cx="173.5" cy="62.2" r="4.0" fill="#ff0000"/>
<circle cx="187" cy="57.7" r="4.0" fill="#ff0000"/>
<circle cx="199.9" cy="57.9" r="4.0" fill="#ff0000"/>
<circle cx="237" cy="53.2" r="4.0" fill="#ff0000"/>
<circle cx="268.3" cy="49.8" r="4.0" fill="#ff0000"/>
<circle cx="329" cy="45.9" r="4.0" fill="#ff0000"/>
<circle cx="381" cy="43.4" r="4.0" fill="#ff0000"/>
<circle cx="81.9" cy="213.3" r="4.0" fill="#ff8000"/>
<circle cx="93.2" cy="213.9" r="4.0" fill="#ff8000"/>
<circle cx="111.8" cy="182" r="4.0" fill="#ff8000"/>
<circle cx="117.4" cy="166" r="4.0" fill="#ff8000"/>
<circle cx="126.1" cy="127.6" r="4.0" fill="#ff8000"/>
<circle cx="131.7" cy="94.9" r="4.0" fill="#ff8000"/>
<circle cx="135" cy="84" r="4.0" fill="#ff8000"/>
<circle cx="140.8" cy="74.2" r="4.0" fill="#ff8000"/>
<circle cx="153" cy="56.3" r="4.0" fill="#ff8000"/>
<circle cx="165" cy="49.8" r="4.0" fill="#ff8000"/>
<circle cx="183.3" cy="46.7" r="4.0" fill="#ff8000"/>
<circle cx="201.3" cy="46.9" r="4.0" fill="#ff8000"/>
<circle cx="238" cy="44" r="4.0" fill="#ff8000"/>
<circle cx="275.2" cy="42.8" r="4.0" fill="#ff8000"/>
<circle cx="321.2" cy="41.6" r="4.0" fill="#ff8000"/>
<circle cx="363.05" cy="39.4" r="4.0" fill="#ff8000"/>
</g>
</svg>
</body></html>
